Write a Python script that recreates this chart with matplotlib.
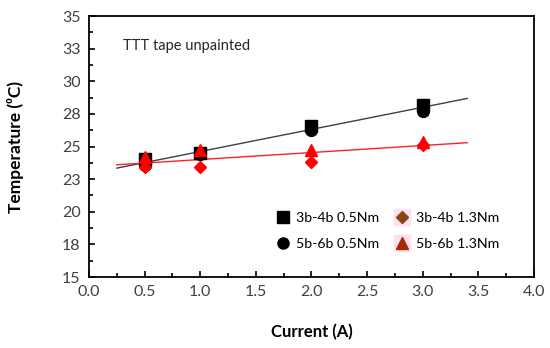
import numpy as np
import matplotlib.pyplot as plt
from matplotlib.ticker import MultipleLocator, FuncFormatter
from matplotlib.lines import Line2D
from matplotlib.legend_handler import HandlerTuple

plt.rcParams['font.family'] = ['Lato', 'DejaVu Sans']

# data
current = [0.5, 1.0, 2.0, 3.0]
t_34_05 = [24.05, 24.5, 26.6, 28.2]   # 3b-4b 0.5Nm (square)
t_56_05 = [23.6, 24.45, 26.3, 27.7]   # 5b-6b 0.5Nm (circle)
t_34_13 = [23.4, 23.4, 23.85, 25.1]   # 3b-4b 1.3Nm (diamond)
t_56_13 = [24.2, 24.7, 24.7, 25.35]   # 5b-6b 1.3Nm (triangle)
labels = ["3b-4b 0.5Nm", "5b-6b 0.5Nm", "3b-4b 1.3Nm", "5b-6b 1.3Nm"]

fig = plt.figure(figsize=(5.5, 3.48), dpi=100)
ax = fig.add_axes([0.1618, 0.204, 0.809, 0.75])

# trendlines (linear fit over both series of each torque)
xfit = np.array([0.25, 3.4])
xb = np.array(current * 2)
yb = np.array(t_34_05 + t_56_05)
m, b = np.polyfit(xb, yb, 1)
ax.plot(xfit, m * xfit + b, color="#404040", lw=1.0, zorder=2)
yr = np.array(t_34_13 + t_56_13)
m2, b2 = np.polyfit(xb, yr, 1)
ax.plot(xfit, m2 * xfit + b2, color="#ff2020", lw=1.0, zorder=2)

ax.plot(current, t_34_05, "s", color="black", ms=8.5, zorder=3)
ax.plot(current, t_56_05, "o", color="black", ms=8.5, zorder=3)
ax.plot(current, t_34_13, "D", color="#ff0000", ms=6.5, zorder=4)
ax.plot(current, t_56_13, "^", color="#ff0000", ms=8, zorder=4)

ax.set_xlim(0, 4)
ax.set_ylim(15, 35)
ax.xaxis.set_major_locator(MultipleLocator(0.5))
ax.xaxis.set_minor_locator(MultipleLocator(0.25))
ax.yaxis.set_major_locator(MultipleLocator(2.5))
ax.yaxis.set_minor_locator(MultipleLocator(1.25))
ax.xaxis.set_major_formatter(FuncFormatter(lambda v, p: f"{v:.1f}"))
ax.yaxis.set_major_formatter(FuncFormatter(lambda v, p: f"{int(np.floor(v + 0.5))}"))
ax.tick_params(which="both", direction="in", top=False, right=False,
               labelsize=11.5, labelcolor="#404040", width=1.2, pad=6)
ax.tick_params(which="major", length=4.5)
ax.tick_params(which="minor", length=3)
for s in ax.spines.values():
    s.set_linewidth(1.3)

ax.set_xlabel("Current (A)", fontsize=12, fontweight="bold", labelpad=18)
ax.set_ylabel("Temperature (⁰C)", fontsize=12.5, fontweight="bold", labelpad=27)
ax.text(0.076, 0.885, "TTT tape unpainted", transform=ax.transAxes,
        fontsize=10.5, va="center", ha="left", color="#262626")

pink = Line2D([], [], marker="s", ls="", color="#fce0f2", ms=11)
handles = [
    Line2D([], [], marker="s", ls="", color="black", ms=8),
    Line2D([], [], marker="o", ls="", color="black", ms=8),
    (pink, Line2D([], [], marker="D", ls="", color="#8b4513", ms=6)),
    (pink, Line2D([], [], marker="^", ls="", color="#a52a00", ms=8)),
]
ax.legend(handles, labels, handler_map={tuple: HandlerTuple(ndivide=1)},
          ncol=2, loc="lower right", bbox_to_anchor=(0.95, 0.055),
          frameon=False, fontsize=10.2, handlelength=0.8, handletextpad=0.55,
          columnspacing=1.2, labelspacing=0.95)

fig.savefig("out.png", dpi=100)
